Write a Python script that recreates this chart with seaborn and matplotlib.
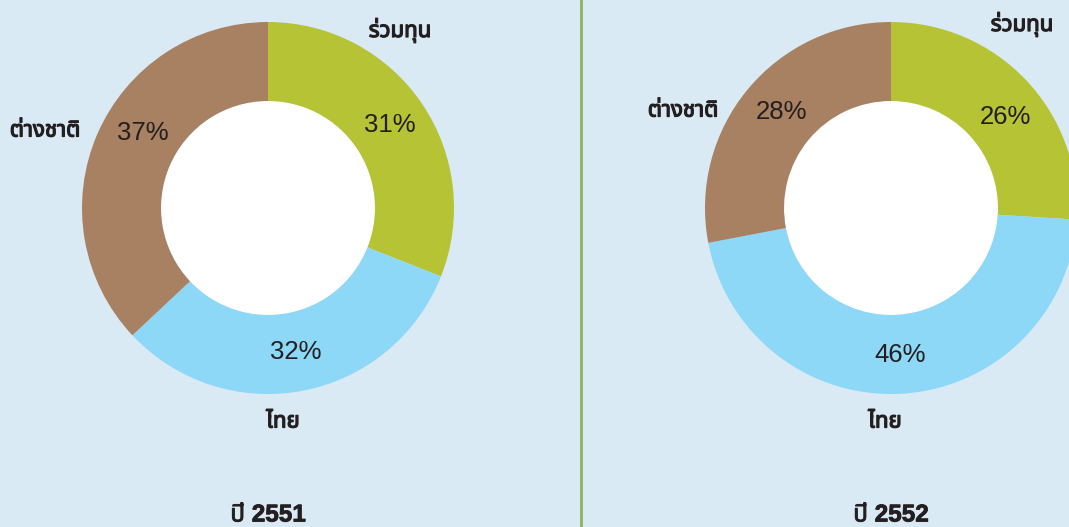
import matplotlib.pyplot as plt
import matplotlib.patheffects as pe
import seaborn as sns
from matplotlib import font_manager

# ข้อมูล
categories = ["ร่วมทุน", "ไทย", "ต่างชาติ"]
share_2551 = [31, 32, 37]
share_2552 = [26, 46, 28]
years = ["ปี 2551", "ปี 2552"]

sns.set_style("white")
names = {f.name for f in font_manager.fontManager.ttflist}
thai = [n for n in ["Noto Sans Thai", "Noto Sans Thai UI", "Loma", "Garuda", "Tlwg Typo", "Noto Sans"] if n in names]
latin = ["Liberation Sans"] if "Liberation Sans" in names else []
plt.rcParams['font.family'] = thai + ['DejaVu Sans']

bg = "#daeaf5"
ink = "#231f20"
colors = ["#b5c335", "#8dd7f7", "#a88062"]
bold = [pe.withStroke(linewidth=0.9, foreground=ink)]

fig = plt.figure(figsize=(10.69, 5.27), dpi=100, facecolor=bg)
ax = fig.add_axes([0, 0, 1, 1])
ax.set_facecolor(bg)

centers = [(268, 319), (891, 319)]
# ขยับป้ายเปอร์เซ็นต์เล็กน้อยให้ตรงกับต้นฉบับ (dx, dy) ตามลำดับ categories
nudges = [[(0, 0), (0, 0), (10, 17)], [(7, -10), (0, 0), (4, 2)]]
for (cx, cy), vals, nudge in zip(centers, [share_2551, share_2552], nudges):
    _, _, pcts = ax.pie(vals, colors=colors, startangle=90, counterclock=False,
                        center=(cx, cy), radius=186, frame=True,
                        wedgeprops=dict(width=79, linewidth=0),
                        autopct=lambda p: f"{p:.0f}%", pctdistance=0.79,
                        textprops=dict(fontsize=18.5, color=ink, family=latin + ['DejaVu Sans']))
    for t, (dx, dy) in zip(pcts, nudge):
        x, y = t.get_position()
        t.set_position((x + dx, y + dy))
    ax.add_patch(plt.Circle((cx, cy), 107, color="white", lw=0, zorder=0.5))

ax.set_xlim(0, 1069)
ax.set_ylim(0, 527)
ax.set_aspect("equal")
ax.axis("off")

# เส้นแบ่ง
ax.axvline(581, color="#8fb55a", lw=2)

lbl = dict(fontsize=16, color=ink, ha="center", va="center", path_effects=bold)
label_pos = [
    {"ร่วมทุน": (400, 497), "ไทย": (283, 105), "ต่างชาติ": (45, 396)},
    {"ร่วมทุน": (1022, 503), "ไทย": (885, 105), "ต่างชาติ": (683, 416)},
]
for pos in label_pos:
    for cat in categories:
        ax.text(*pos[cat], cat, **lbl)

for (cx, cy), yr in zip(centers, years):
    ax.text(cx, 12, yr, fontsize=17.5, fontweight="bold", color=ink,
            family=latin + thai + ['DejaVu Sans'], ha="center", va="center",
            path_effects=[pe.withStroke(linewidth=0.6, foreground=ink)])

fig.savefig("out.png", dpi=100, facecolor=bg)
